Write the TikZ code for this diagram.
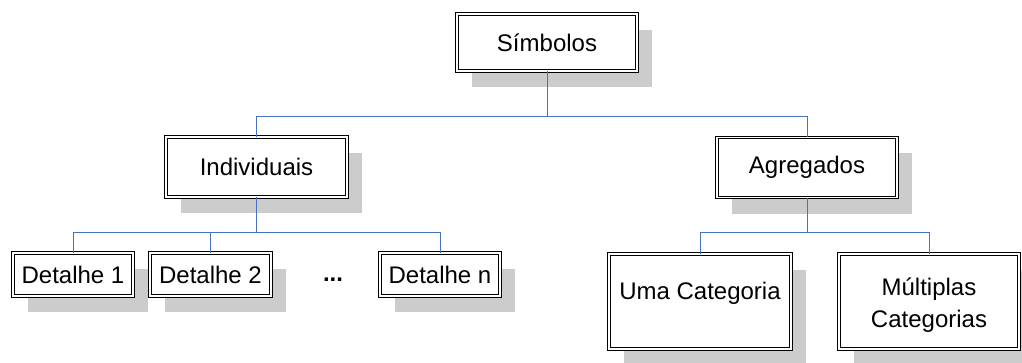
\documentclass[tikz,border=0pt]{standalone}
\usepackage{fontspec}
\setmainfont{Liberation Sans}
\usetikzlibrary{backgrounds}
\definecolor{connblue}{RGB}{68,114,196}
\definecolor{shadowgray}{RGB}{204,204,204}
\tikzset{
  box/.style={draw=black, double=white, line width=0.9pt, double distance=1.8pt,
    fill=white, inner sep=0pt, align=center,
    font=\fontsize{24}{32}\selectfont},
  boxtext/.style={align=center, inner sep=0pt, font=\fontsize{24}{32}\selectfont},
  conn/.style={draw=connblue, line width=1pt},
}
\newcommand{\boxshadow}[1]{%
  \fill[shadowgray] ([shift={(15,16)}]#1.south west) rectangle ([shift={(15,16)}]#1.north east);}
\begin{document}
\begin{tikzpicture}[x=1pt,y=-1pt]
\useasboundingbox (0,0) rectangle (1022,362);
\node[box, minimum width=180, minimum height=57] (sym) at (547,42.5) {Símbolos};
\node[box, minimum width=181, minimum height=60] (ind) at (256.5,167) {Individuais};
\node[box, minimum width=180, minimum height=60] (agr) at (807,167.5) {Agregados};
\node[box, minimum width=120, minimum height=43] (d1) at (73,274.5) {Detalhe 1};
\node[box, minimum width=121, minimum height=43] (d2) at (210.5,274.5) {Detalhe 2};
\node[box, minimum width=120, minimum height=43] (dn) at (440,274.5) {Detalhe n};
\node[font=\fontsize{24}{28}\bfseries] (dots) at (333,280) {...};
\node[box, minimum width=182, minimum height=95] (uma) at (700,301.5) {};
\node[boxtext] (umat) at (700,293) {Uma Categoria};
\node[box, minimum width=180, minimum height=95] (mul) at (929,301.5) {};
\node[boxtext] (mult) at (929,305) {Múltiplas\\Categorias};
\begin{scope}[on background layer]
  \boxshadow{sym}\boxshadow{ind}\boxshadow{agr}
  \boxshadow{d1}\boxshadow{d2}\boxshadow{dn}
  \boxshadow{uma}\boxshadow{mul}
\end{scope}
\coordinate (h1) at (0,116.5);
\coordinate (h2) at (0,232);
\draw[conn] (sym.south) -- (sym.south |- h1) -| (ind.north);
\draw[conn] (sym.south |- h1) -| (agr.north);
\draw[conn] (ind.south) -- (ind.south |- h2) -| (d1.north);
\draw[conn] (ind.south |- h2) -| (dn.north);
\draw[conn] (d2.north) -- (d2.north |- h2);
\draw[conn] (agr.south) -- (agr.south |- h2) -| (uma.north);
\draw[conn] (agr.south |- h2) -| (mul.north);
\end{tikzpicture}
\end{document}
